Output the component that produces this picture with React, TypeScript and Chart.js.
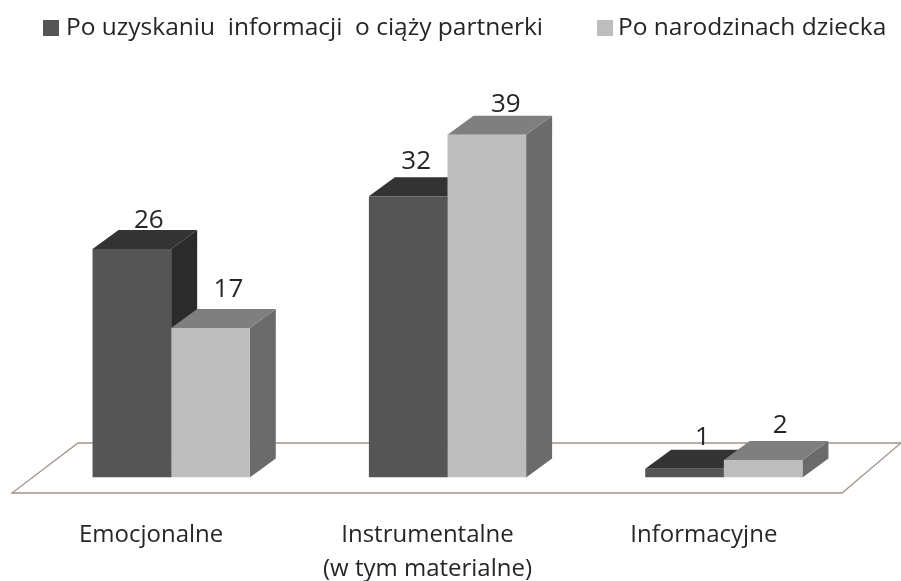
import React, { useEffect, useRef } from "react";
import { Chart, registerables } from "chart.js";

Chart.register(...registerables);

const categories = [["Emocjonalne"], ["Instrumentalne", "(w tym materialne)"], ["Informacyjne"]];
const seriesNames = ["Po uzyskaniu  informacji  o ciąży partnerki", "Po narodzinach dziecka"];
const firstValues = [26, 32, 1];
const secondValues = [17, 39, 2];

const frontColors = ["#555555", "#bdbdbd"];
const topColors = ["#333333", "#7f7f7f"];
const sideColors = ["#2b2b2b", "#6b6b6b"];
const floorColor = "#a3938c";
const textColor = "#262626";
const fontFamily = "'Open Sans', sans-serif";

const DEPTH_X = 26;
const DEPTH_Y = 19;
// small offsets of the value labels relative to the bar's top centre
const labelShift = [
  [[17, -28], [8, -35], [18, -31]],
  [[18, -38], [19, -30], [17, -34]],
];
const legendBoxX = [43, 597];
const legendTextX = [66, 618];
const legendY = 28;

function poly(ctx: CanvasRenderingContext2D, pts: number[][], fill: string) {
  ctx.beginPath();
  pts.forEach((p, i) => (i ? ctx.lineTo(p[0], p[1]) : ctx.moveTo(p[0], p[1])));
  ctx.closePath();
  ctx.fillStyle = fill;
  ctx.fill();
}

const bar3d = {
  id: "bar3d",
  beforeDatasetsDraw(chart: any) {
    const { ctx, scales } = chart;
    const base = scales.y.getPixelForValue(0);
    const left = scales.x.left;
    const right = scales.x.right;
    ctx.save();
    const fy = base + 15.5;
    const by = base - 34.5;
    ctx.strokeStyle = floorColor;
    ctx.lineWidth = 1.3;
    ctx.beginPath();
    ctx.moveTo(left + 45, by);
    ctx.lineTo(right + 39, by);
    ctx.lineTo(right - 20, fy);
    ctx.lineTo(left - 21, fy);
    ctx.closePath();
    ctx.stroke();
    const meta0 = chart.getDatasetMeta(0).data;
    const meta1 = chart.getDatasetMeta(1).data;
    meta0.forEach((_: any, i: number) => {
      [meta0[i], meta1[i]].forEach((el: any, d: number) => {
        const l = el.x - el.width / 2;
        const r = el.x + el.width / 2;
        const t = el.y;
        const b = el.base;
        poly(ctx, [[r, t], [r + DEPTH_X, t - DEPTH_Y], [r + DEPTH_X, b - DEPTH_Y], [r, b]], sideColors[d]);
        poly(ctx, [[l, t], [l + DEPTH_X, t - DEPTH_Y], [r + DEPTH_X, t - DEPTH_Y], [r, t]], topColors[d]);
      });
    });
    ctx.restore();
  },
  afterDatasetsDraw(chart: any) {
    const { ctx } = chart;
    ctx.save();
    ctx.fillStyle = textColor;
    ctx.font = `26px ${fontFamily}`;
    ctx.textAlign = "center";
    ctx.textBaseline = "middle";
    chart.data.datasets.forEach((ds: any, d: number) => {
      chart.getDatasetMeta(d).data.forEach((el: any, i: number) => {
        const s = labelShift[d][i];
        ctx.fillText(String(ds.data[i]), el.x + s[0], el.y + s[1]);
      });
    });
    ctx.font = `24.5px ${fontFamily}`;
    ctx.textAlign = "left";
    chart.data.datasets.forEach((ds: any, d: number) => {
      ctx.fillStyle = frontColors[d];
      ctx.fillRect(legendBoxX[d], legendY - 8, 16, 16);
      ctx.fillStyle = textColor;
      ctx.fillText(ds.label, legendTextX[d], legendY);
    });
    ctx.restore();
  },
};

export default function App() {
  const ref = useRef<HTMLCanvasElement>(null);
  useEffect(() => {
    document.body.style.margin = "0";
    const chart = new Chart(ref.current!, {
      type: "bar",
      data: {
        labels: categories as any,
        datasets: [
          { label: seriesNames[0], data: firstValues, backgroundColor: frontColors[0], barPercentage: 1, categoryPercentage: 0.569 },
          { label: seriesNames[1], data: secondValues, backgroundColor: frontColors[1], barPercentage: 1, categoryPercentage: 0.569 },
        ],
      },
      options: {
        responsive: false,
        animation: false,
        layout: { padding: { left: 33, right: 39, top: 82, bottom: 0 } },
        plugins: {
          tooltip: { enabled: false },
          legend: { display: false },
        },
        scales: {
          x: {
            grid: { display: false },
            border: { display: false },
            afterFit: (scale: any) => {
              scale.height = 103.5;
            },
            ticks: {
              color: textColor,
              font: { family: fontFamily, size: 24, lineHeight: 1.42 },
              maxRotation: 0,
              autoSkip: false,
              labelOffset: -20,
              padding: 33,
            },
          },
          y: { display: false, min: 0, max: 45 },
        },
      },
      plugins: [bar3d],
    } as any);
    return () => chart.destroy();
  }, []);
  return <canvas ref={ref} width={901} height={581} style={{ display: "block" }} />;
}
